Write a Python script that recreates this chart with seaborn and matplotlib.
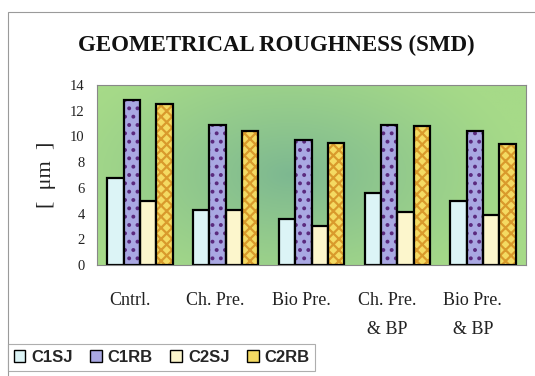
import numpy as np
import pandas as pd
import matplotlib
matplotlib.use("Agg")
import matplotlib.pyplot as plt
from matplotlib.patches import Rectangle, Patch
from matplotlib.colors import to_rgb
import seaborn as sns

# --- data -------------------------------------------------------------
treatments = ["Cntrl.", "Ch. Pre.", "Bio Pre.", "Ch. Pre.\n& BP", "Bio Pre.\n& BP"]
series = ["C1SJ", "C1RB", "C2SJ", "C2RB"]
c1sj = [6.8, 4.3, 3.6, 5.6, 5.0]
c1rb = [12.8, 10.9, 9.7, 10.9, 10.4]
c2sj = [5.0, 4.3, 3.0, 4.1, 3.9]
c2rb = [12.5, 10.4, 9.5, 10.8, 9.4]
y_ticks = [0, 2, 4, 6, 8, 10, 12, 14]

df = pd.DataFrame({
    "treatment": treatments * 4,
    "series": [s for s in series for _ in treatments],
    "value": c1sj + c1rb + c2sj + c2rb,
})

# --- styling ----------------------------------------------------------
sns.set_theme(style="white")
plt.rcParams["font.family"] = ["Liberation Serif", "DejaVu Serif"]
plt.rcParams["hatch.linewidth"] = 1.6

fills = {"C1SJ": "#dcf4f6", "C1RB": "#a9a8e2", "C2SJ": "#fcf6cc", "C2RB": "#f4da62"}
hatches = {"C1RB": ("..", "#5b2a7e"), "C2RB": ("xxx", "#d99a2c")}

fig = plt.figure(figsize=(5.35, 3.76), dpi=100)
ax = fig.add_axes([97 / 535, 1 - 265 / 376, 429 / 535, 180 / 376])

# radial green background of the plot area
gx, gy = np.meshgrid(np.linspace(0, 1, 300), np.linspace(0, 1, 200))
r = np.sqrt(((gx - 0.45) / 0.55) ** 2 + ((gy - 0.5) / 0.75) ** 2)
t = np.clip(1 - r, 0, 1) ** 1.2
edge = np.array(to_rgb("#a6da88"))
center = np.array(to_rgb("#7db891"))
img = edge[None, None, :] * (1 - t[..., None]) + center[None, None, :] * t[..., None]
ax.imshow(img, extent=[0, 1, 0, 1], transform=ax.transAxes, aspect="auto",
          zorder=0, origin="lower")

sns.barplot(data=df, x="treatment", y="value", hue="series", order=treatments,
            hue_order=series, palette=fills, width=0.76, gap=0, dodge=True,
            saturation=1, edgecolor="black", linewidth=1.6, ax=ax, zorder=2,
            legend=False)

# patterned fills: hatch drawn in its own colour, then a black outline on top
for name, container in zip(series, ax.containers):
    if name in hatches:
        h, hc = hatches[name]
        for bar in container:
            bar.set_hatch(h)
            bar.set_edgecolor(hc)
            bar.set_linewidth(0)
            ax.add_patch(Rectangle((bar.get_x(), bar.get_y()), bar.get_width(),
                                   bar.get_height(), fill=False, ec="black",
                                   lw=1.6, zorder=3))

ax.set_xlim(-0.5, len(treatments) - 0.5)
ax.set_ylim(0, 14)
ax.set_yticks(y_ticks)
ax.set_yticklabels([str(v) for v in y_ticks], fontsize=10.5, color="#222222")
ax.set_xticks(np.arange(len(treatments) + 1) - 0.5)
ax.set_xticklabels([])
ax.tick_params(axis="both", direction="out", length=4, width=0.7, color="#777777",
               pad=5)
ax.set_xlabel("")
ax.set_ylabel("[  μm  ]", fontsize=16, labelpad=10, color="#222222")
for sp in ax.spines.values():
    sp.set_color("#888888")
    sp.set_linewidth(0.8)

# category labels below the axis
for i, lab in enumerate(treatments):
    ax.text(i - 0.12, -0.15, lab, transform=ax.get_xaxis_transform(), ha="center",
            va="top", fontsize=13, color="#222222", linespacing=1.95)

fig.text(0.517, 0.88, "GEOMETRICAL ROUGHNESS (SMD)", ha="center", va="center",
         fontsize=16.5, fontweight="bold", color="#111111")

# outer frame of the chart
fig.add_artist(Rectangle((8 / 535, -0.2), 1.2, 1.2 - 12 / 376,
                         transform=fig.transFigure, fill=False, ec="#9a9a9a",
                         lw=0.8))

handles = [Patch(facecolor=fills[s], edgecolor="black", linewidth=1.0) for s in series]
leg = fig.legend(handles, series, loc="upper left", bbox_to_anchor=(8 / 535, 1 - 344 / 376),
                 ncol=4, frameon=True, fancybox=False, handlelength=0.7,
                 handleheight=0.7, handletextpad=0.35, columnspacing=1.05,
                 borderpad=0.35, borderaxespad=0,
                 prop={"family": "Liberation Sans", "size": 12, "weight": "bold"})
leg.get_frame().set_edgecolor("#9a9a9a")
leg.get_frame().set_linewidth(0.8)

fig.savefig("out.png", dpi=100, facecolor="white")
